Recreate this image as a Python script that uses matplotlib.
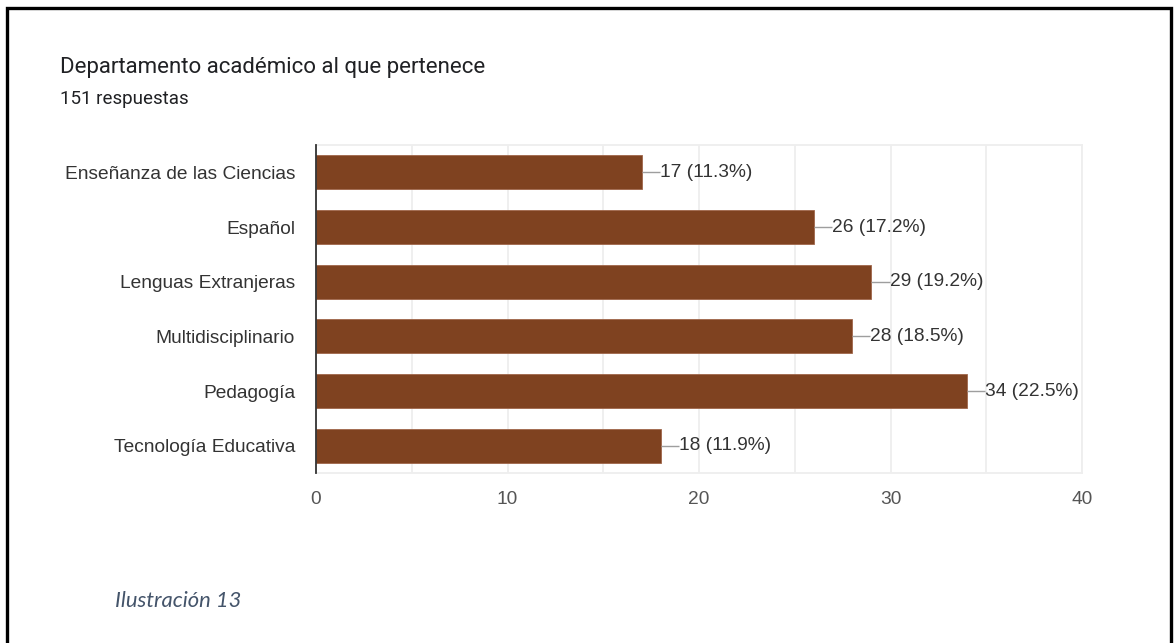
import matplotlib
matplotlib.use('Agg')
import matplotlib.pyplot as plt
from matplotlib.patches import Rectangle

plt.rc('font', family=['Liberation Sans', 'DejaVu Sans'], size=13.8)

# %%
categorie = [
    'Enseñanza de las Ciencias',
    'Español',
    'Lenguas Extranjeras',
    'Multidisciplinario',
    'Pedagogía',
    'Tecnología Educativa',
]
risposte = [17, 26, 29, 28, 34, 18]
percentuali = [11.3, 17.2, 19.2, 18.5, 22.5, 11.9]
ticks_x = [0, 10, 20, 30, 40]

colore_barre = '#7f4220'
colore_testo = '#333333'
W, H = 1174, 643

fig = plt.figure(figsize=(W / 100, H / 100), dpi=100)
fig.patch.set_facecolor('white')

ax = fig.add_axes([316 / W, 1 - 473 / H, (1082 - 316) / W, (473 - 145) / H])

y = list(range(len(categorie)))
ax.barh(y, risposte, height=0.625, color=colore_barre, edgecolor='#a0664a', linewidth=0.6, zorder=3)

for yi, v, p in zip(y, risposte, percentuali):
    ax.plot([v, v + 0.95], [yi, yi], color='#9e9e9e', lw=1, zorder=3, solid_capstyle='butt')
    ax.text(v + 0.95, yi, f'{v} ({p}%)', va='center', ha='left', fontsize=13.8, color=colore_testo)

ax.set_xlim(0, 40)
ax.set_ylim(len(categorie) - 0.5, -0.5)
ax.set_yticks(y)
ax.set_yticklabels(categorie, fontsize=13.8, color=colore_testo)
ax.set_xticks(ticks_x)
ax.set_xticklabels([str(t) for t in ticks_x], fontsize=13.8, color='#555555')
ax.set_xticks(range(5, 40, 10), minor=True)
ax.tick_params(axis='both', which='both', length=0)
ax.tick_params(axis='x', pad=13)
ax.tick_params(axis='y', pad=15)

ax.grid(axis='x', which='both', color='#eeeeee', lw=1.3, zorder=0)
for lato in ['top', 'right', 'bottom']:
    ax.spines[lato].set_color('#eeeeee')
    ax.spines[lato].set_linewidth(1.3)
ax.spines['left'].set_color('#333333')
ax.spines['left'].set_linewidth(1.3)
ax.spines['left'].set_zorder(5)

fig.text(60 / W, 1 - 68 / H, 'Departamento académico al que pertenece', fontsize=16,
         family=['Roboto', 'DejaVu Sans'], color='#202124', va='center', ha='left')
fig.text(60 / W, 1 - 99 / H, '151 respuestas', fontsize=13.5,
         family=['Roboto', 'DejaVu Sans'], color='#202124', va='center', ha='left')
fig.text(115 / W, 1 - 601 / H, 'Ilustración 13', fontsize=15.8, style='italic',
         family=['Lato', 'DejaVu Sans'], color='#44546a', va='center', ha='left')

# cornice nera
fig.patches.append(Rectangle((7 / W, -0.05), (1171 - 7) / W, 1.05 - 8 / H,
                             transform=fig.transFigure, fill=False, edgecolor='black', lw=2.4))

plt.savefig('out.png', dpi=100)
plt.close()
